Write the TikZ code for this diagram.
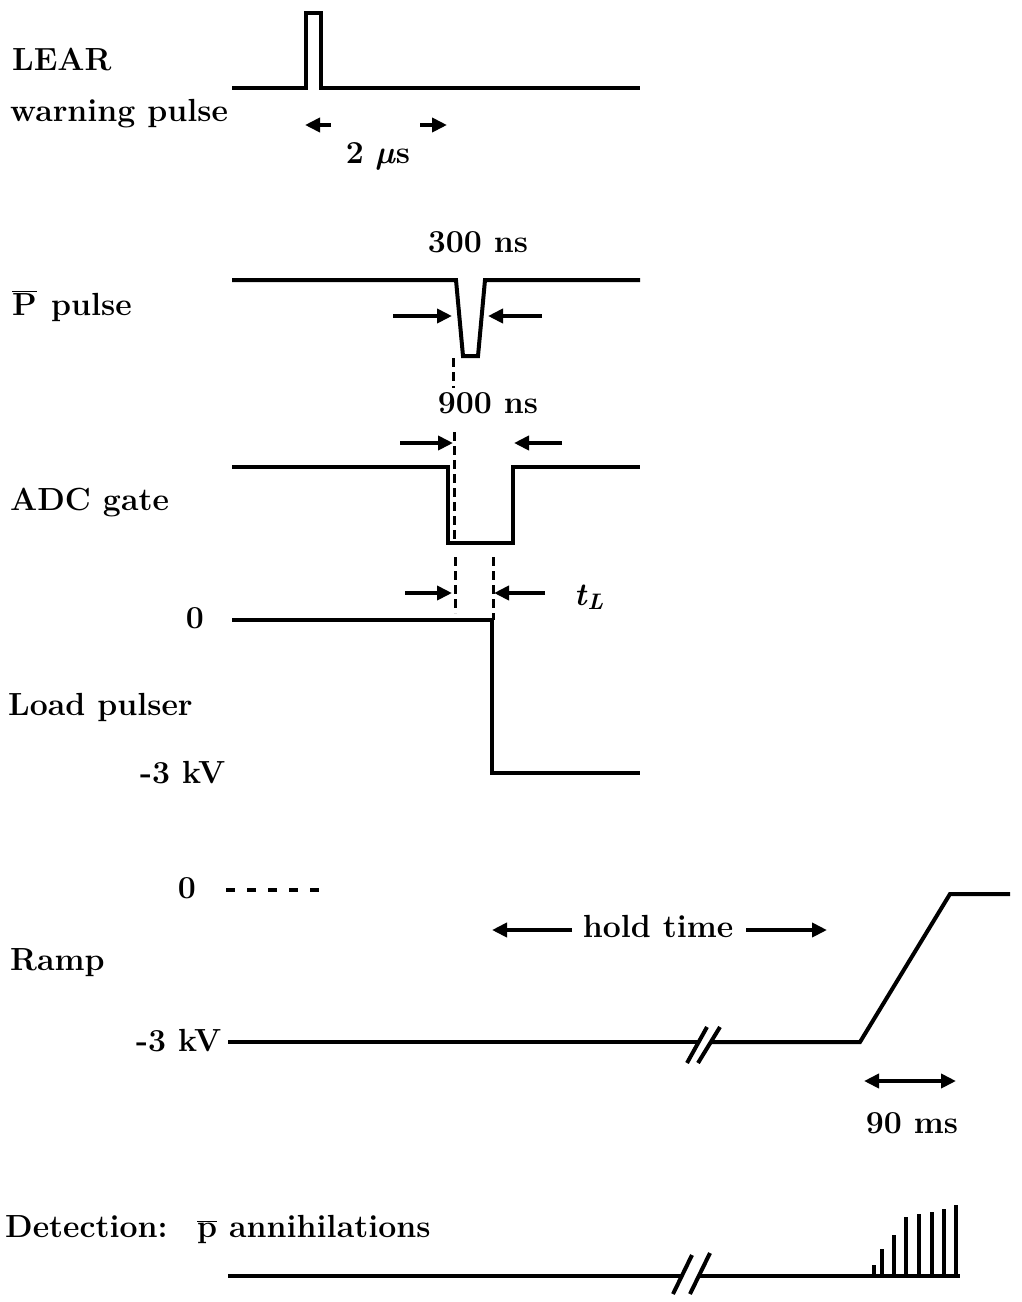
\RequirePackage{fix-cm}
\documentclass[tikz,border=0pt]{standalone}
\usetikzlibrary{arrows.meta}
\begin{document}
\begin{tikzpicture}[x=1pt,y=-1pt,
  wave/.style={line width=4pt, line join=miter},
  lbl/.style={font=\fontsize{32}{37}\selectfont\bfseries, inner sep=0pt},
  dim/.style={line width=4pt, -{Triangle[length=15pt,width=14pt]}},
  dimboth/.style={line width=4pt, {Triangle[length=15pt,width=14pt]}-{Triangle[length=15pt,width=14pt]}},
  guide/.style={line width=3pt, dash pattern=on 9pt off 5pt},
  dotline/.style={line width=4pt, dash pattern=on 9pt off 12pt},
]
\useasboundingbox[fill=white] (0,0) rectangle (1021,1302);

% ---------- labels ----------
\node[lbl, anchor=base west] (lear) at (12,70) {LEAR};
\node[lbl, anchor=base west] (warn) at (10,121) {warning pulse};
\node[lbl, anchor=base] (twous) at (378,163) {2 \textit{µ}s};
\node[lbl, anchor=base] (t300) at (478,252) {300 ns};
\node[lbl, anchor=base west] (ppulse) at (12,315) {$\overline{\mbox{P}}$\hspace{0.45em}pulse};
\node[lbl, anchor=base] (t900) at (488,413) {900 ns};
\node[lbl, anchor=base west] (adc) at (10,510) {ADC gate};
\node[lbl, anchor=base] (zeroA) at (195,628) {0};
\node[lbl, anchor=base west] (load) at (8,715) {Load pulser};
\node[lbl, anchor=base west] (mkvA) at (140,783) {-3 kV};
\node[lbl, anchor=base west] (tlab) at (574,605) {\textit{t}\textsubscript{\textit{L}}};
\node[lbl, anchor=base] (zeroB) at (187,898) {0};
\node[lbl, anchor=base west] (ramp) at (10,970) {Ramp};
\node[lbl, anchor=base west] (mkvB) at (136,1051) {-3 kV};
\node[lbl, anchor=base] (hold) at (658,937) {hold time};
\node[lbl, anchor=base] (ms90) at (912,1133) {90 ms};
\node[lbl, anchor=base west] (det) at (5,1237) {Detection:};
\node[lbl, anchor=base west] (ann) at (197,1237) {$\overline{\mbox{p}}$ annihilations};

% ---------- LEAR warning pulse ----------
\coordinate (l0) at (232,88);
\coordinate (l1) at (306,88);
\coordinate (l2) at (306,13);
\coordinate (l3) at (321,13);
\coordinate (l4) at (321,88);
\coordinate (l5) at (640,88);
\draw[wave] (l0) -- (l1) -- (l2) -- (l3) -- (l4) -- (l5);
\coordinate (la1) at (331,125);
\coordinate (lb1) at (305,125);
\coordinate (la2) at (420,125);
\coordinate (lb2) at (447,125);
\draw[dim] (la1) -- (lb1);
\draw[dim] (la2) -- (lb2);

% ---------- Pbar pulse ----------
\coordinate (p0) at (232,280);
\coordinate (p1) at (456,280);
\coordinate (p2) at (463,356);
\coordinate (p3) at (478,356);
\coordinate (p4) at (485,280);
\coordinate (p5) at (640,280);
\draw[wave] (p0) -- (p1) -- (p2) -- (p3) -- (p4) -- (p5);
\coordinate (pa1) at (393,316);
\coordinate (pb1) at (452,316);
\coordinate (pa2) at (542,316);
\coordinate (pb2) at (488,316);
\draw[dim] (pa1) -- (pb1);
\draw[dim] (pa2) -- (pb2);
\coordinate (pd1) at (453,358);
\coordinate (pd2) at (453,388);
\draw[guide] (pd1) -- (pd2);

% ---------- ADC gate ----------
\coordinate (g0) at (232,467);
\coordinate (g1) at (448,467);
\coordinate (g2) at (448,543);
\coordinate (g3) at (513,543);
\coordinate (g4) at (513,467);
\coordinate (g5) at (640,467);
\draw[wave] (g0) -- (g1) -- (g2) -- (g3) -- (g4) -- (g5);
\coordinate (ga1) at (400,443);
\coordinate (gb1) at (453,443);
\coordinate (ga2) at (562,443);
\coordinate (gb2) at (514,443);
\draw[dim] (ga1) -- (gb1);
\draw[dim] (ga2) -- (gb2);
\coordinate (gd1) at (454,432);
\coordinate (gd2) at (454,540);
\draw[guide] (gd1) -- (gd2);

% ---------- t_L markers ----------
\coordinate (td1) at (455,557);
\coordinate (td2) at (455,613);
\coordinate (td3) at (493,557);
\coordinate (td4) at (493,620);
\draw[guide] (td1) -- (td2);
\draw[guide] (td3) -- (td4);
\coordinate (ta1) at (405,593);
\coordinate (tb1) at (452,593);
\coordinate (ta2) at (545,593);
\coordinate (tb2) at (494,593);
\draw[dim] (ta1) -- (tb1);
\draw[dim] (ta2) -- (tb2);

% ---------- Load pulser ----------
\coordinate (d0) at (232,620);
\coordinate (d1) at (492,620);
\coordinate (d2) at (492,773);
\coordinate (d3) at (640,773);
\draw[wave] (d0) -- (d1) -- (d2) -- (d3);

% ---------- Ramp ----------
\coordinate (z0) at (226,890);
\coordinate (z1) at (328,890);
\draw[dotline] (z0) -- (z1);
\coordinate (r0) at (228,1042);
\coordinate (r1) at (699,1042);
\coordinate (r2) at (711,1042);
\coordinate (r3) at (860,1042);
\coordinate (r4) at (950,894);
\coordinate (r5) at (1010,894);
\draw[wave] (r0) -- (r1);
\draw[wave] (r2) -- (r3) -- (r4) -- (r5);
\coordinate (rs1a) at (687,1063);
\coordinate (rs1b) at (707,1027);
\coordinate (rs2a) at (698,1063);
\coordinate (rs2b) at (720,1027);
\draw[wave] (rs1a) -- (rs1b);
\draw[wave] (rs2a) -- (rs2b);
\coordinate (ha1) at (572,930);
\coordinate (hb1) at (492,930);
\coordinate (ha2) at (746,930);
\coordinate (hb2) at (827,930);
\draw[dim] (ha1) -- (hb1);
\draw[dim] (ha2) -- (hb2);
\coordinate (m1) at (864,1081);
\coordinate (m2) at (956,1081);
\draw[dimboth] (m1) -- (m2);

% ---------- Detection ----------
\coordinate (e0) at (228,1276);
\coordinate (e1) at (681,1276);
\coordinate (e2) at (699,1276);
\coordinate (e3) at (960,1276);
\draw[wave] (e0) -- (e1);
\draw[wave] (e2) -- (e3);
\coordinate (es1a) at (673,1294);
\coordinate (es1b) at (692,1255);
\coordinate (es2a) at (690,1294);
\coordinate (es2b) at (710,1253);
\draw[wave] (es1a) -- (es1b);
\draw[wave] (es2a) -- (es2b);
\foreach \bx/\by [count=\i] in {874/1265, 882/1249, 894/1235, 906/1217, 919/1214, 932/1212, 944/1209, 956/1205} {
  \coordinate (bt\i) at (\bx,\by);
  \coordinate (bb\i) at (\bx,1276);
  \draw[line width=4.5pt] (bb\i) -- (bt\i);
}
\end{tikzpicture}
\end{document}
